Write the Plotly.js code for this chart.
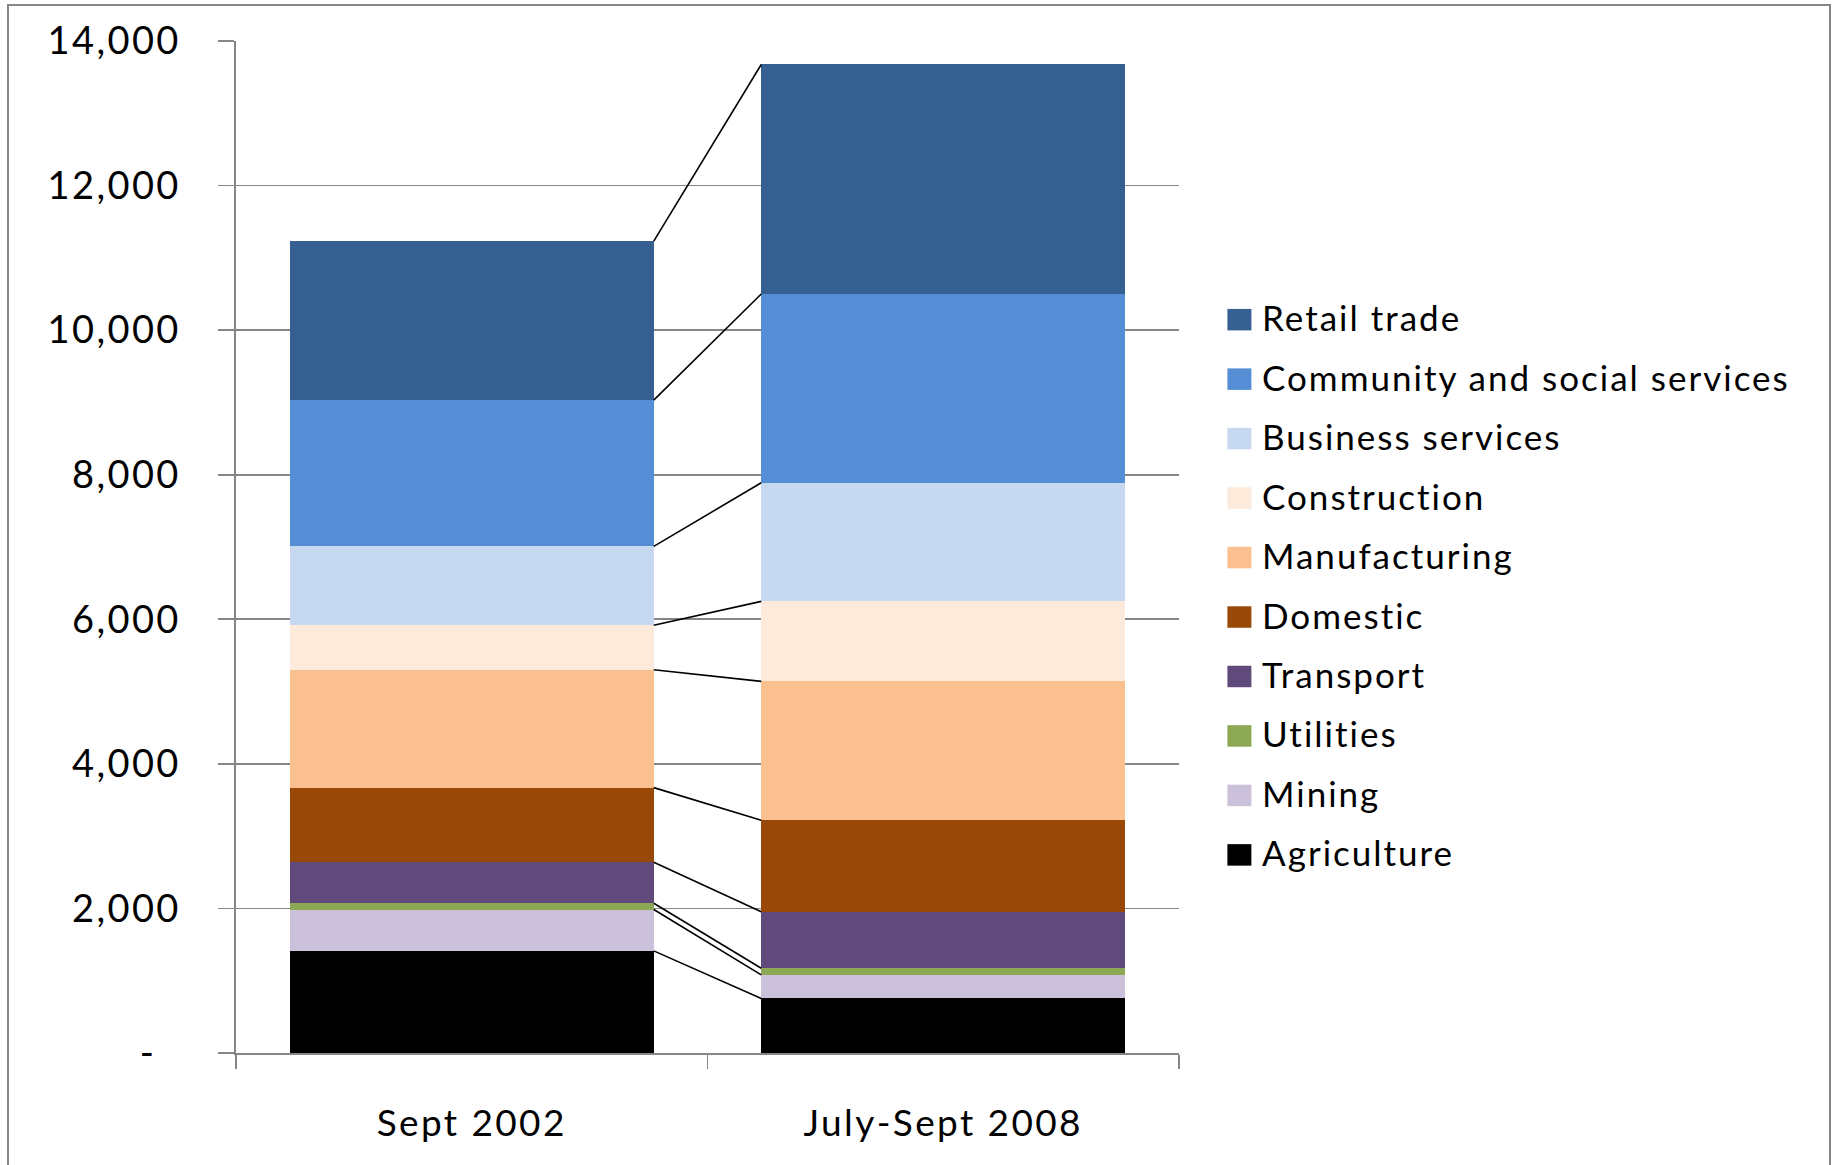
<!DOCTYPE html>
<html>
<head>
<meta charset="utf-8">
<script src="https://cdn.plot.ly/plotly-3.0.1.min.js"></script>
<style>
  html, body { margin: 0; padding: 0; background: #ffffff; }
  text { letter-spacing: 2.4px; }
  text.annotation-text { letter-spacing: 2.0px; }
  #wrap { position: relative; width: 1837px; height: 1165px; overflow: hidden; }
  #chart { position: absolute; left: 0; top: 0; width: 1837px; height: 1165px; }
  #frame { position: absolute; left: 7px; top: 4px; width: 1820px; height: 1200px;
           border: 2px solid #868686; pointer-events: none; }
</style>
</head>
<body>
<div id="wrap">
  <div id="chart"></div>
  <div id="frame"></div>
</div>
<script>
// ---- data ----
const categories = ['Sept 2002', 'July-Sept 2008'];
const sectors = ['Agriculture', 'Mining', 'Utilities', 'Transport', 'Domestic',
                 'Manufacturing', 'Construction', 'Business services',
                 'Community and social services', 'Retail trade'];
const values2002 = [1413, 572, 87, 566, 1033, 1631, 615, 1091, 2024, 2199];
const values2008 = [755, 325, 93, 780, 1266, 1922, 1107, 1641, 2611, 3175];
const yTickVals = [0, 2000, 4000, 6000, 8000, 10000, 12000, 14000];
const yTickText = ['-\u2007', '2,000', '4,000', '6,000', '8,000', '10,000', '12,000', '14,000'];

// ---- styles ----
const colors = ['#000000', '#CCC1DA', '#8DA854', '#604A7B', '#984807',
                '#FAC090', '#FDEADA', '#C6D9F1', '#558ED5', '#376092'];
const FONT = 'Lato, "Open Sans", sans-serif';
const GRID = '#868686';
const W = 1837, H = 1165;
const PL = 235.5, PR = 1178.6, PT = 41, PB = 1053.5;
const bargap = 0.228;

const traces = [];
sectors.forEach((s, i) => {
  traces.push({
    type: 'bar', name: s, x: categories, y: [values2002[i], values2008[i]],
    marker: { color: colors[i], line: { width: 0 } },
    showlegend: false, hoverinfo: 'x+y+name'
  });
});

// connector lines between cumulative tops
const hw = (1 - bargap) / 2;
let c1 = 0, c2 = 0;
sectors.forEach((s, i) => {
  c1 += values2002[i]; c2 += values2008[i];
  traces.push({
    type: 'scatter', mode: 'lines', xaxis: 'x2', yaxis: 'y',
    x: [0 + hw, 1 - hw], y: [c1, c2],
    line: { color: '#000000', width: 1.6 },
    showlegend: false, hoverinfo: 'skip'
  });
});

// manual legend (Retail trade at top)
const px2x = px => (px - PL) / (PR - PL);
const px2y = py => (PB - py) / (PB - PT);
const shapes = [];
const annotations = [];
const order = sectors.map((s, i) => i).reverse();
order.forEach((idx, k) => {
  const cy = 319.8 + k * 59.5;
  shapes.push({
    type: 'rect', xref: 'paper', yref: 'paper',
    x0: px2x(1227), x1: px2x(1251), y0: px2y(cy + 10.75), y1: px2y(cy - 10.75),
    fillcolor: colors[idx], line: { width: 0 }
  });
  annotations.push({
    xref: 'paper', yref: 'paper', x: px2x(1259.5), y: px2y(cy - 2.5),
    xanchor: 'left', yanchor: 'middle', showarrow: false,
    text: sectors[idx], font: { family: FONT, size: 35, color: '#000000' }
  });
});

const layout = {
  width: W, height: H,
  margin: { l: PL, r: W - PR, t: PT, b: H - PB, pad: 0 },
  paper_bgcolor: '#ffffff', plot_bgcolor: '#ffffff',
  barmode: 'stack', bargap: bargap,
  showlegend: false,
  font: { family: FONT, color: '#000000' },
  xaxis: {
    type: 'category', tickson: 'boundaries',
    showline: true, linecolor: GRID, linewidth: 1.6,
    ticks: 'outside', ticklen: 14, tickcolor: GRID, tickwidth: 1.6,
    showgrid: false, zeroline: false,
    tickfont: { family: FONT, size: 37, color: '#000000' },
    ticklabelstandoff: 37
  },
  xaxis2: {
    type: 'linear', overlaying: 'x', range: [-0.5, 1.5], visible: false
  },
  yaxis: {
    range: [0, 14000], tickvals: yTickVals, ticktext: yTickText,
    showline: true, linecolor: GRID, linewidth: 1.6,
    ticks: 'outside', ticklen: 16, tickcolor: GRID, tickwidth: 1.6,
    showgrid: true, gridcolor: GRID, gridwidth: 1.6, zeroline: false,
    tickfont: { family: FONT, size: 38, color: '#000000' },
    ticklabelstandoff: 30
  },
  shapes: shapes,
  annotations: annotations
};

Plotly.newPlot('chart', traces, layout, { displayModeBar: false, staticPlot: true });
</script>
</body>
</html>
